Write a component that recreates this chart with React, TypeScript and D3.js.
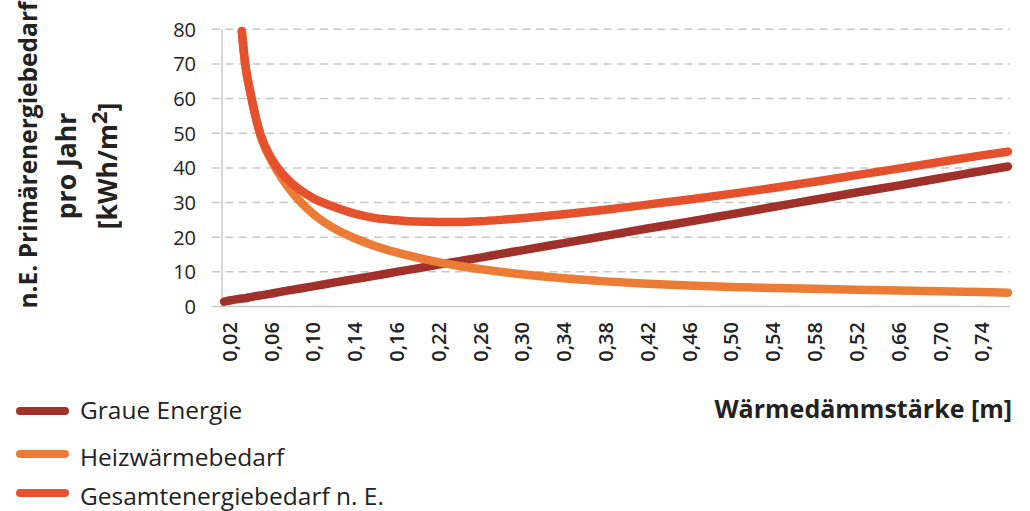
import React from "react";
import * as d3 from "d3";

// Insulation thickness [m] at which the curves are sampled
const thickness = [
  0.015, 0.032, 0.035, 0.04, 0.045, 0.05, 0.06, 0.07, 0.08, 0.1, 0.12, 0.14,
  0.16, 0.18, 0.2, 0.22, 0.24, 0.26, 0.28, 0.3, 0.34, 0.38, 0.42, 0.46, 0.5,
  0.54, 0.58, 0.62, 0.66, 0.7, 0.74, 0.765,
];

// Embodied (grey) energy
const graueEnergie = [
  1.4, 2.3, 2.4, 2.7, 3.0, 3.2, 3.7, 4.3, 4.8, 5.8, 6.9, 7.9, 8.9, 10.0, 11.0,
  12.1, 13.1, 14.1, 15.2, 16.2, 18.3, 20.4, 22.5, 24.5, 26.6, 28.7, 30.8, 32.9,
  34.9, 37.0, 39.1, 40.4,
];

// Heating demand
const heizwaermebedarf: (number | null)[] = [
  null, 79.5, 70.5, 62, 55, 49.3, 42.3, 37.2, 33.0, 26.8, 22.6, 19.7, 17.4,
  15.6, 14.1, 12.8, 11.7, 10.8, 10.0, 9.3, 8.15, 7.25, 6.55, 6.05, 5.65, 5.35,
  5.1, 4.85, 4.6, 4.4, 4.15, 4.0,
];

// Total demand
const gesamtenergiebedarf: (number | null)[] = [
  null, 79.5, 70.5, 62, 55, 49.5, 42.9, 38.6, 35.5, 31.3, 28.8, 26.8, 25.5,
  24.9, 24.5, 24.4, 24.4, 24.6, 25.0, 25.5, 26.6, 27.9, 29.4, 30.9, 32.5, 34.2,
  36.0, 37.9, 39.8, 41.7, 43.6, 44.7,
];

const yTicks = [0, 10, 20, 30, 40, 50, 60, 70, 80];
const xTickValues = [
  0.02, 0.06, 0.1, 0.14, 0.18, 0.22, 0.26, 0.3, 0.34, 0.38, 0.42, 0.46, 0.5,
  0.54, 0.58, 0.62, 0.66, 0.7, 0.74,
];
const xTickLabels = [
  "0,02", "0,06", "0,10", "0,14", "0,16", "0,22", "0,26", "0,30", "0,34",
  "0,38", "0,42", "0,46", "0,50", "0,54", "0,58", "0,52", "0,66", "0,70", "0,74",
];

const seriesNames = ["Graue Energie", "Heizwärmebedarf", "Gesamtenergiebedarf n. E."];
const seriesColors = ["#9f312a", "#ec7b36", "#e4512c"];

const FONT = "'Open Sans', 'Noto Sans', sans-serif";

export default function App() {
  const left = 222;
  const right = 1010;
  const top = 29.3;
  const bottom = 306.5;

  const x = d3.scaleLinear().domain([0.014, 0.766]).range([223, 1009]);
  const y = d3.scaleLinear().domain([0, 80]).range([bottom, top]);

  const line = d3
    .line<[number, number | null]>()
    .defined((d) => d[1] !== null)
    .x((d) => x(d[0]))
    .y((d) => y(d[1] as number))
    .curve(d3.curveMonotoneX);

  const series = [graueEnergie, heizwaermebedarf, gesamtenergiebedarf].map(
    (vals) => thickness.map((t, i) => [t, vals[i]] as [number, number | null])
  );

  const legendRows = [
    { swatchY: 411, textY: 419 },
    { swatchY: 454, textY: 466 },
    { swatchY: 493, textY: 505 },
  ];

  return (
    <svg
      width={1030}
      height={511}
      style={{ position: "absolute", left: 0, top: 0, background: "#fff" }}
      fontFamily={FONT}
    >
      {/* horizontal gridlines */}
      {yTicks.map((t) =>
        t === 0 ? null : (
          <line
            key={"g" + t}
            x1={212}
            x2={right}
            y1={y(t)}
            y2={y(t)}
            stroke="#c8c8c8"
            strokeWidth={1.5}
            strokeDasharray="8 5.5"
          />
        )
      )}
      {/* axes */}
      <line x1={left} x2={left} y1={top} y2={bottom} stroke="#c8c8c8" strokeWidth={1.5} />
      <line x1={212} x2={right} y1={bottom} y2={bottom} stroke="#c8c8c8" strokeWidth={1.5} />

      {/* y tick labels */}
      {yTicks.map((t) => (
        <text
          key={"yl" + t}
          x={196}
          y={y(t)}
          textAnchor="end"
          dominantBaseline="central"
          fontSize={20}
          fontWeight={500}
          fill="#222"
        >
          {t}
        </text>
      ))}

      {/* x tick labels */}
      {xTickValues.map((v, i) => (
        <text
          key={"xl" + i}
          transform={`translate(${x(v)},322) rotate(-90)`}
          textAnchor="end"
          dominantBaseline="central"
          fontSize={20}
          fontWeight={600}
          fill="#222"
        >
          {xTickLabels[i]}
        </text>
      ))}

      {/* series */}
      {series.map((s, i) => (
        <path
          key={"s" + i}
          d={line(s) || ""}
          fill="none"
          stroke={seriesColors[i]}
          strokeWidth={8.5}
          strokeLinecap="round"
          strokeLinejoin="round"
        />
      ))}

      {/* y axis title */}
      <g fontWeight={700} fill="#222">
        <text transform="translate(37,155) rotate(-90)" textAnchor="middle" fontSize={24.5}>
          n.E. Primärenergiebedarf
        </text>
        <text transform="translate(76,166) rotate(-90)" textAnchor="middle" fontSize={26.5}>
          pro Jahr
        </text>
        <text transform="translate(117,166) rotate(-90)" textAnchor="middle" fontSize={26.5}>
          [kWh/m<tspan dy={-10} fontSize={22}>2</tspan><tspan dy={10}>]</tspan>
        </text>
      </g>

      {/* x axis title */}
      <text x={1012} y={418} textAnchor="end" fontWeight={700} fontSize={25} fill="#222">
        Wärmedämmstärke [m]
      </text>

      {/* legend */}
      {seriesNames.map((name, i) => (
        <g key={"lg" + i}>
          <line
            x1={20}
            x2={65}
            y1={legendRows[i].swatchY}
            y2={legendRows[i].swatchY}
            stroke={seriesColors[i]}
            strokeWidth={8}
            strokeLinecap="round"
          />
          <text x={80} y={legendRows[i].textY} fontSize={24.5} fill="#222">
            {name}
          </text>
        </g>
      ))}
    </svg>
  );
}
